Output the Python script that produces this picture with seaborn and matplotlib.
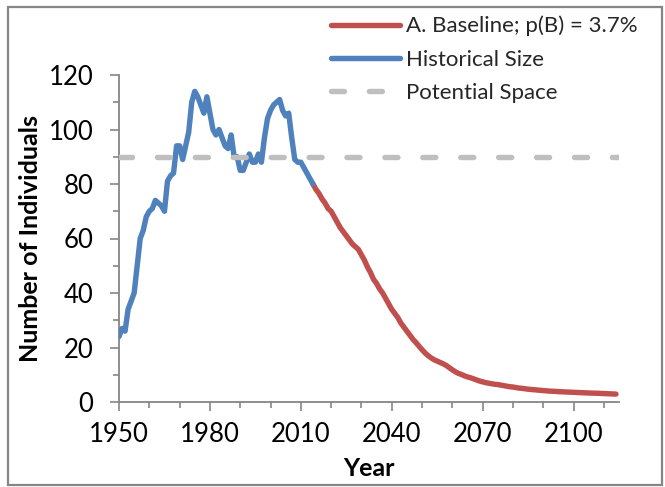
import numpy as np
import pandas as pd
import matplotlib
matplotlib.use("Agg")
import matplotlib.pyplot as plt
from matplotlib.patches import Rectangle
from matplotlib.ticker import MultipleLocator
import seaborn as sns

# Observed population size, one value per year 1950-2014
hist_years = list(range(1950, 2015))
hist_size = [
    24, 27, 26, 34, 37, 40, 50, 60, 63, 68,
    70, 71, 74, 73, 72, 70, 81, 83, 84, 94,
    94, 89, 94, 99, 110, 114, 112, 109, 106, 112,
    106, 100, 98, 100, 97, 94, 93, 98, 90, 90,
    85, 85, 88, 91, 88, 88, 91, 88, 97, 104,
    107, 109, 110, 111, 107, 105, 106, 97, 89, 88,
    88, 86, 84, 82, 80,
]

# Projected size under the baseline scenario, 2014-2114
proj_years = list(range(2014, 2115))
proj_size = [
    80, 78, 76.5, 74.5, 73, 71, 70, 68, 66, 64,
    62.5, 61, 59.5, 58, 57, 56, 54, 52, 49.5, 47.5,
    45, 43.5, 41.5, 40, 38, 36, 34, 32.5, 31, 29,
    27.5, 26, 24.5, 23, 21.8, 20.5, 19.2, 18, 17, 16.2,
    15.5, 15, 14.5, 14, 13.4, 12.6, 11.8, 11.1, 10.5, 10.1,
    9.6, 9.2, 8.9, 8.5, 8.1, 7.7, 7.4, 7.1, 6.9, 6.7,
    6.5, 6.4, 6.2, 6.0, 5.8, 5.6, 5.5, 5.3, 5.1, 5.0,
    4.85, 4.7, 4.6, 4.5, 4.4, 4.3, 4.2, 4.1, 4.0, 3.95,
    3.9, 3.8, 3.75, 3.7, 3.65, 3.6, 3.55, 3.5, 3.45, 3.4,
    3.35, 3.3, 3.27, 3.23, 3.2, 3.15, 3.1, 3.05, 3.0, 2.95,
    2.9,
]

# Carrying capacity of the available habitat
space_years = [1950, 2115]
space_size = [90, 90]

labels = ["A. Baseline; p(B) = 3.7%", "Historical Size", "Potential Space"]
colors = ["#C0504D", "#4F81BD", "#BFBFBF"]

sns.set_style("ticks")
plt.rcParams["font.family"] = ["Lato", "DejaVu Sans"]

axis_grey = "#868686"
text_color = "#000000"

fig = plt.figure(figsize=(6.65, 4.87), dpi=100)
ax = fig.add_axes([119 / 665, 1 - 402 / 487, 500 / 665, 327 / 487])

lw = 3.9
sns.lineplot(x=proj_years, y=proj_size, ax=ax, color=colors[0], linewidth=lw,
             label=labels[0], solid_capstyle="round", zorder=3)
sns.lineplot(x=hist_years, y=hist_size, ax=ax, color=colors[1], linewidth=lw,
             label=labels[1], solid_capstyle="round", zorder=4)
sns.lineplot(x=space_years, y=space_size, ax=ax, color=colors[2], linewidth=lw,
             label=labels[2], dashes=False, zorder=5)
space_line = ax.lines[-1]
space_line.set_dashes((2.4, 4.6))
space_line.set_dash_capstyle("round")

ax.set_xlim(1950, 2115)
ax.set_ylim(0, 120)
ax.xaxis.set_major_locator(MultipleLocator(30))
ax.xaxis.set_minor_locator(MultipleLocator(10))
ax.yaxis.set_major_locator(MultipleLocator(20))
ax.yaxis.set_minor_locator(MultipleLocator(10))

for side in ["top", "right"]:
    ax.spines[side].set_visible(False)
for side in ["left", "bottom"]:
    ax.spines[side].set_color(axis_grey)
    ax.spines[side].set_linewidth(1.3)

ax.tick_params(axis="both", which="major", direction="out", length=6.5, width=1.2,
               color=axis_grey, labelsize=18.5, labelcolor=text_color, pad=8)
ax.tick_params(axis="both", which="minor", direction="out", length=4.5, width=1.2,
               color=axis_grey)
ax.tick_params(axis="y", which="major", pad=12)

ax.set_xlabel("Year", fontsize=18, fontweight="bold", color=text_color, labelpad=7)
ax.set_ylabel("Number of Individuals", fontsize=18, fontweight="bold",
              color=text_color, labelpad=5)

ax.get_legend().remove()
handles = ax.lines[:3]
leg = fig.legend(handles, labels, loc="upper left",
                 bbox_to_anchor=(322 / 665, 1 - 7 / 487),
                 frameon=False, fontsize=16, handlelength=3.1, handletextpad=0.3,
                 labelspacing=0.6, borderaxespad=0)

# Outer chart border
fig.patches.append(Rectangle((8 / 665, 2 / 487), 654 / 665, 478 / 487,
                             transform=fig.transFigure, fill=False,
                             edgecolor=axis_grey, linewidth=1.6))

fig.savefig("out.png", dpi=100)
